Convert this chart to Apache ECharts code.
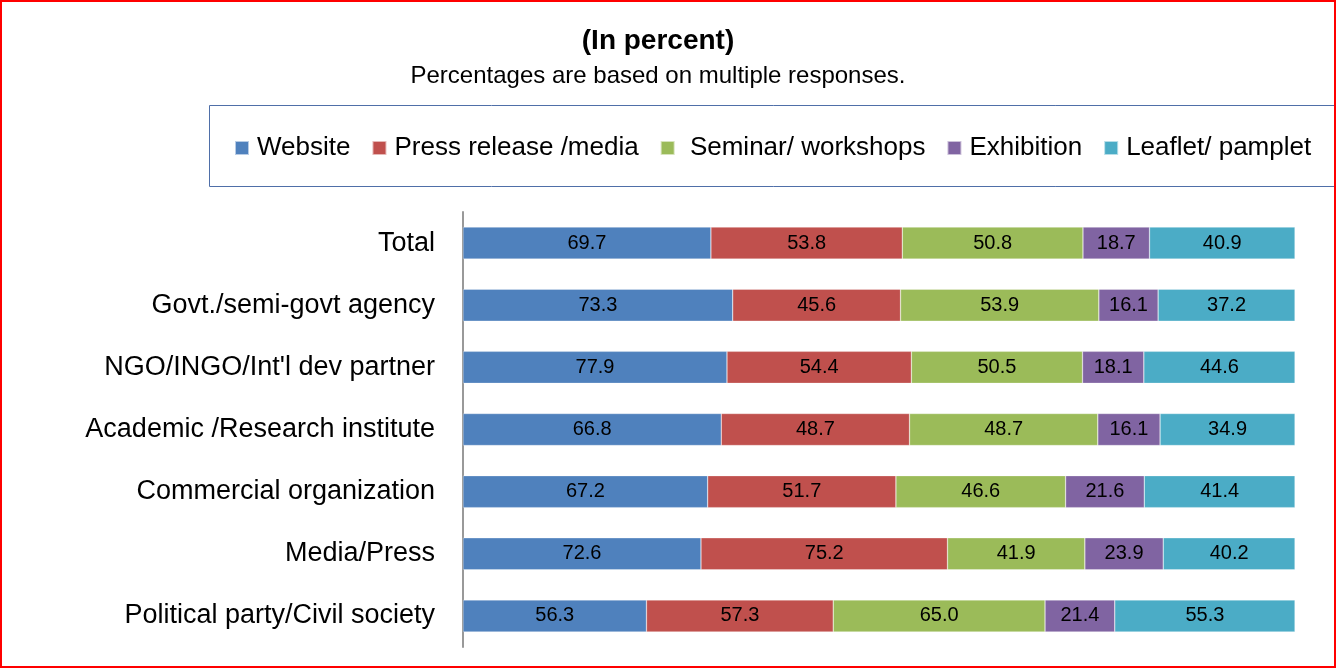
<!DOCTYPE html>
<html>
<head>
<meta charset="utf-8">
<script src="https://cdn.jsdelivr.net/npm/echarts@6/dist/echarts.min.js"></script>
<style>
	html, body { margin: 0; padding: 0; background: #fff; }
	#chart { width: 1336px; height: 670px; }
</style>
</head>
<body>
<div id="chart"></div>
<script>
	/*---------- 数据 ----------*/
	var categories = ['Total', 'Govt./semi-govt agency', "NGO/INGO/Int'l dev partner", 'Academic /Research institute', 'Commercial organization', 'Media/Press', 'Political party/Civil society'];
	var seriesNames = ['Website', 'Press release /media', 'Seminar/ workshops', 'Exhibition', 'Leaflet/ pamplet'];
	var website = [69.7, 73.3, 77.9, 66.8, 67.2, 72.6, 56.3];
	var pressRelease = [53.8, 45.6, 54.4, 48.7, 51.7, 75.2, 57.3];
	var seminar = [50.8, 53.9, 50.5, 48.7, 46.6, 41.9, 65.0];
	var exhibition = [18.7, 16.1, 18.1, 16.1, 21.6, 23.9, 21.4];
	var leaflet = [40.9, 37.2, 44.6, 34.9, 41.4, 40.2, 55.3];
	var colors = ['#4F81BD', '#C0504D', '#9BBB59', '#8064A2', '#4BACC6'];
	/*-------------------------*/

	var raw = [website, pressRelease, seminar, exhibition, leaflet];
	var totals = [];
	for (var i = 0; i < categories.length; i++) {
		var s = 0;
		for (var k = 0; k < raw.length; k++) {
			s += raw[k][i];
		}
		totals.push(s);
	}

	var series = [];
	for (var k = 0; k < raw.length; k++) {
		var data = [];
		for (var i = 0; i < categories.length; i++) {
			// 100% 堆叠：按行总和换算
			data.push({ value: raw[k][i] / totals[i] * 100, raw: raw[k][i] });
		}
		series.push({
			name: seriesNames[k],
			type: 'bar',
			stack: 'all',
			barWidth: 32,
			itemStyle: { color: colors[k], borderColor: 'rgba(255,255,255,0.6)', borderWidth: 0.5 },
			label: {
				show: true,
				position: 'inside',
				color: '#000',
				fontSize: 20,
				fontFamily: 'Liberation Sans',
				formatter: function(p) { return p.data.raw.toFixed(1); }
			},
			data: data
		});
	}

	var myChart = echarts.init(document.getElementById('chart'));
	myChart.setOption({
		animation: false,
		color: colors,
		title: {
			text: '(In percent)',
			subtext: 'Percentages are based on multiple responses.',
			left: 653,
			textAlign: 'center',
			top: 22,
			itemGap: 9,
			textStyle: { fontSize: 28, fontWeight: 'bold', color: '#000', fontFamily: 'Liberation Sans' },
			subtextStyle: { fontSize: 24, color: '#000', fontFamily: 'Liberation Sans' }
		},
		legend: {
			left: 229,
			top: 130,
			itemWidth: 14,
			itemHeight: 14,
			itemGap: 21,
			icon: 'rect',
			formatter: function(name) {
				return name === 'Seminar/ workshops' ? ' ' + name : name;
			},
			textStyle: { fontSize: 26, color: '#000', fontFamily: 'Liberation Sans', padding: [0, 0, 0, 3] },
			data: seriesNames
		},
		graphic: [
			{
				type: 'rect',
				shape: { x: 209.5, y: 105.5, width: 1200, height: 81 },
				style: { fill: 'none', stroke: '#4F6FA8', lineWidth: 1 },
				silent: true
			},
			{
				type: 'rect',
				shape: { x: 1, y: 1, width: 1334, height: 666 },
				style: { fill: 'none', stroke: '#FF0000', lineWidth: 2 },
				silent: true,
				z: 100
			}
		],
		grid: {
			left: 463,
			right: 41,
			top: 212,
			bottom: 23
		},
		xAxis: {
			type: 'value',
			min: 0,
			max: 100,
			show: false,
			splitLine: { show: false }
		},
		yAxis: {
			type: 'category',
			inverse: true,
			data: categories,
			axisLine: { show: true, lineStyle: { color: '#999999', width: 2 } },
			axisTick: { show: false },
			axisLabel: {
				color: '#000',
				fontSize: 27,
				fontFamily: 'Liberation Sans',
				margin: 28
			}
		},
		series: series
	});
</script>
</body>
</html>
